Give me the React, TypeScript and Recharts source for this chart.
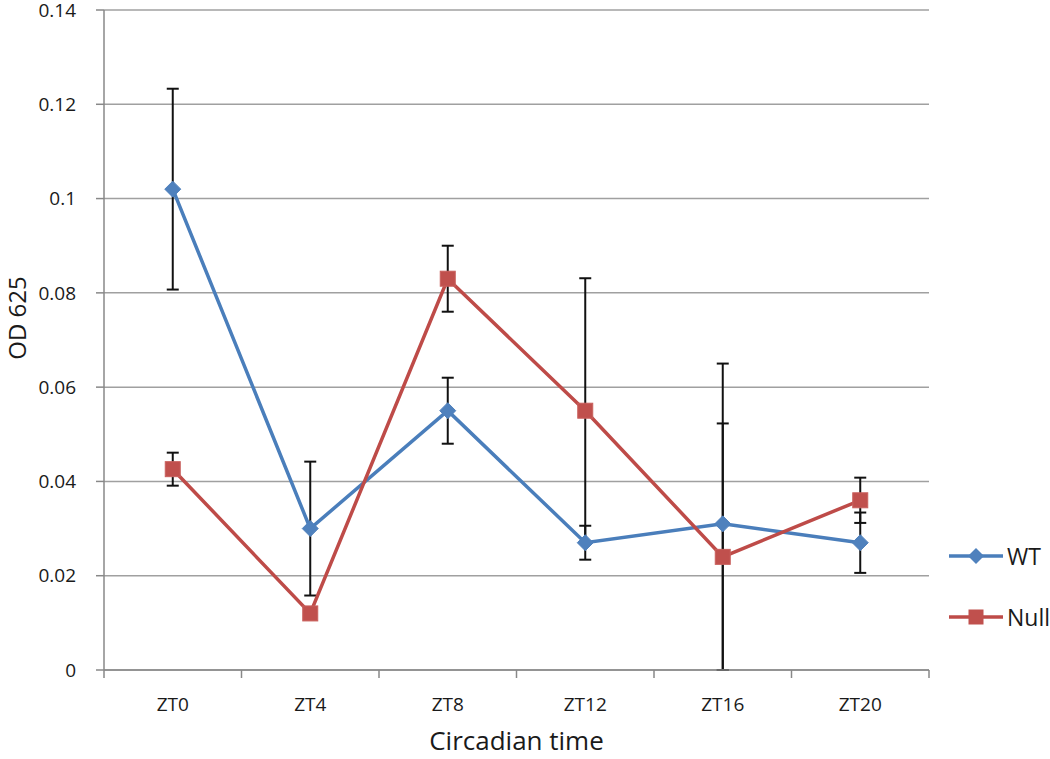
import { LineChart, Line, XAxis, YAxis, CartesianGrid, ErrorBar, Legend } from "recharts";

// ── Data ────────────────────────────────────────────────────
const categories = ["ZT0", "ZT4", "ZT8", "ZT12", "ZT16", "ZT20"];
const wtValues = [0.102, 0.03, 0.055, 0.027, 0.031, 0.027];
// [below, above]
const wtErrors = [
  [0.0213, 0.0213],
  [0.0142, 0.0142],
  [0.007, 0.007],
  [0.0036, 0.0036],
  [0.031, 0.0213],
  [0.0064, 0.0064],
];
const nullValues = [0.0426, 0.012, 0.083, 0.055, 0.024, 0.036];
const nullErrors = [
  [0.0035, 0.0035],
  [0, 0],
  [0.007, 0.007],
  [0.0281, 0.0281],
  [0.024, 0.041],
  [0.0048, 0.0048],
];
const yTicks = [0, 0.02, 0.04, 0.06, 0.08, 0.1, 0.12, 0.14];

const WT_COLOR = "#4a7ebb";
const NULL_COLOR = "#be4b48";
const GRID = "#a0a0a0";
const FONT = "'Open Sans', sans-serif";

const chartData = categories.map((c, i) => ({
  x: i + 0.5,
  name: c,
  wt: wtValues[i],
  wtErr: wtErrors[i],
  nul: nullValues[i],
  nulErr: nullErrors[i],
}));

// boundaries and centres of every category slot
const xTicks = [...categories.flatMap((_, i) => [i, i + 0.5]), categories.length];

/* ── Markers ──────────────────────────────────────────────── */

function Diamond(props: any) {
  const { cx, cy, index } = props;
  if (cx == null || cy == null) return <g key={`d-${index}`} />;
  const r = 8;
  return (
    <path
      key={`d-${index}`}
      d={`M${cx},${cy - r} L${cx + r},${cy} L${cx},${cy + r} L${cx - r},${cy} Z`}
      fill="#4f81bd"
      stroke="#4f81bd"
    />
  );
}

function Square(props: any) {
  const { cx, cy, index } = props;
  if (cx == null || cy == null) return <g key={`s-${index}`} />;
  const h = 7.5;
  return (
    <rect
      key={`s-${index}`}
      x={cx - h}
      y={cy - h}
      width={h * 2}
      height={h * 2}
      fill="#c0504d"
      stroke="#c9605d"
      strokeWidth={1}
    />
  );
}

/* ── Axis pieces ──────────────────────────────────────────── */

function XTick(props: any) {
  const { x, y, payload } = props;
  const v = payload.value;
  if (Number.isInteger(v)) {
    return <line x1={x} x2={x} y1={y} y2={y + 8} stroke="#888" strokeWidth={1.5} />;
  }
  return (
    <text x={x} y={y + 41} textAnchor="middle" fontSize={19} fontFamily={FONT} fill="#1a1a1a">
      {categories[Math.floor(v)]}
    </text>
  );
}

function LegendContent() {
  const row = (label: string, color: string, marker: "d" | "s") => (
    <div style={{ display: "flex", alignItems: "center", height: 40 }}>
      <svg width={56} height={20}>
        <line x1={0} x2={54} y1={10} y2={10} stroke={color} strokeWidth={3.5} />
        {marker === "d" ? (
          <path d="M27,2 L35,10 L27,18 L19,10 Z" fill="#4f81bd" />
        ) : (
          <rect x={19.5} y={2.5} width={15} height={15} fill="#c0504d" />
        )}
      </svg>
      <span style={{ fontFamily: FONT, fontSize: 23, color: "#1a1a1a", marginLeft: 2 }}>{label}</span>
    </div>
  );
  return (
    <div style={{ paddingLeft: 20 }}>
      {row("WT", WT_COLOR, "d")}
      <div style={{ height: 21 }} />
      {row("Null", NULL_COLOR, "s")}
    </div>
  );
}

export default function App() {
  return (
    <div style={{ position: "absolute", left: 0, top: 0, width: 1050, height: 759, background: "#fff" }}>
      <LineChart
        width={1050}
        height={759}
        data={chartData}
        margin={{ top: 10, right: 0, bottom: 0, left: 0 }}
      >
        <CartesianGrid vertical={false} stroke={GRID} strokeWidth={1.5} />
        <XAxis
          dataKey="x"
          type="number"
          domain={[0, categories.length]}
          ticks={xTicks}
          interval={0}
          height={89}
          tickLine={false}
          tickSize={0}
          tickMargin={0}
          axisLine={{ stroke: "#888", strokeWidth: 1.5 }}
          tick={<XTick />}
          label={(p: any) => {
            const vb = p.viewBox;
            return (
              <text
                x={vb.x + vb.width / 2}
                y={750}
                textAnchor="middle"
                fontSize={26}
                fontFamily={FONT}
                fill="#1a1a1a"
              >
                Circadian time
              </text>
            );
          }}
        />
        <YAxis
          width={104}
          domain={[0, 0.14]}
          ticks={yTicks}
          interval={0}
          tickSize={8}
          tickMargin={20}
          tickLine={{ stroke: "#888", strokeWidth: 1.5 }}
          axisLine={{ stroke: "#888", strokeWidth: 1.5 }}
          tick={{ fontSize: 19, fontFamily: FONT, fill: "#1a1a1a" }}
          label={(p: any) => {
            const vb = p.viewBox;
            const cy = vb.y + vb.height / 2 - 22;
            return (
              <text
                x={26}
                y={cy}
                transform={`rotate(-90, 26, ${cy})`}
                textAnchor="middle"
                fontSize={24}
                fontFamily={FONT}
                fill="#1a1a1a"
              >
                OD 625
              </text>
            );
          }}
        />
        <Legend
          layout="vertical"
          align="right"
          verticalAlign="top"
          content={<LegendContent />}
          wrapperStyle={{ width: 121, top: 536 }}
        />
        <Line
          dataKey="wt"
          name="WT"
          stroke={WT_COLOR}
          strokeWidth={3.5}
          dot={Diamond}
          activeDot={false}
          isAnimationActive={false}
        >
          <ErrorBar dataKey="wtErr" direction="y" width={6} stroke="#111" strokeWidth={2} isAnimationActive={false} />
        </Line>
        <Line
          dataKey="nul"
          name="Null"
          stroke={NULL_COLOR}
          strokeWidth={3.5}
          dot={Square}
          activeDot={false}
          isAnimationActive={false}
        >
          <ErrorBar dataKey="nulErr" direction="y" width={6} stroke="#111" strokeWidth={2} isAnimationActive={false} />
        </Line>
      </LineChart>
    </div>
  );
}
